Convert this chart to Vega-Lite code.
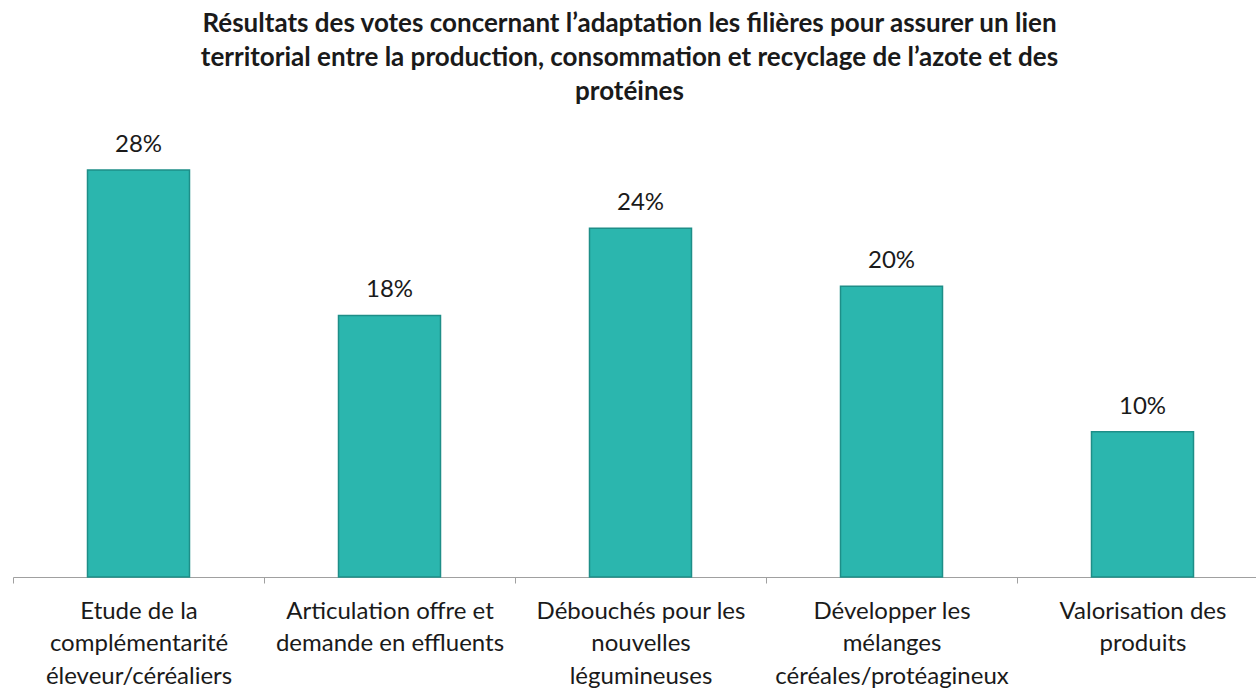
{
  "$schema": "https://vega.github.io/schema/vega-lite/v6.json",
  "autosize": "none",
  "width": 1255,
  "height": 436,
  "padding": {"left": 13, "top": 141, "right": 0, "bottom": 113},
  "background": "white",
  "title": {
    "text": ["Résultats des votes concernant l’adaptation les filières pour assurer un lien", "territorial entre la production, consommation et recyclage de l’azote et des", "protéines"],
    "font": "Lato",
    "fontSize": 26,
    "fontWeight": "bold",
    "color": "#1a1a1a",
    "anchor": "middle",
    "dx": -11,
    "lineHeight": 34,
    "offset": 28
  },
  "data": {
    "values": [
      {"cat": "Etude de la|complémentarité|éleveur/céréaliers", "v": 0.28, "lab": "28%"},
      {"cat": "Articulation offre et|demande en effluents", "v": 0.18, "lab": "18%"},
      {"cat": "Débouchés pour les|nouvelles|légumineuses", "v": 0.24, "lab": "24%"},
      {"cat": "Développer les|mélanges|céréales/protéagineux", "v": 0.20, "lab": "20%"},
      {"cat": "Valorisation des|produits", "v": 0.10, "lab": "10%"}
    ]
  },
  "encoding": {
    "x": {
      "field": "cat", "type": "nominal", "sort": null,
      "scale": {"paddingInner": 0, "paddingOuter": 0},
      "axis": {
        "title": null,
        "labelAngle": 0,
        "labelExpr": "isString(datum.value) ? split(datum.value, '|') : ''",
        "labelFont": "Lato",
        "labelFontSize": 24,
        "labelColor": "#1a1a1a",
        "labelLineHeight": 32.5,
        "labelPadding": 16,
        "labelBaseline": "top",
        "tickBand": "extent",
        "tickSize": 6,
        "tickColor": "#a0a0a0",
        "domainColor": "#a0a0a0",
        "labelLimit": 300
      }
    },
    "y": {
      "field": "v", "type": "quantitative",
      "scale": {"domain": [0, 0.3]},
      "axis": null
    }
  },
  "layer": [
    {
      "mark": {"type": "bar", "width": 102, "color": "#2bb6ae", "stroke": "#1e8e88", "strokeWidth": 1.5}
    },
    {
      "mark": {"type": "text", "dy": -25, "baseline": "middle", "font": "Lato", "fontSize": 24, "color": "#1a1a1a"},
      "encoding": {"text": {"field": "lab"}}
    }
  ],
  "config": {"view": {"stroke": null}}
}
